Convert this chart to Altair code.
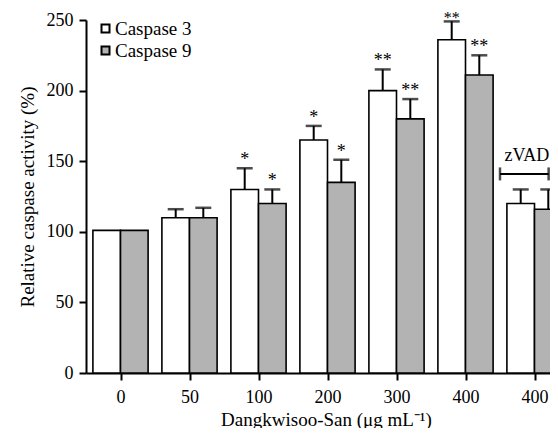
import json
import altair as alt
import pandas as pd

# ---------------- data ----------------
categories = ["0", "50", "100", "200", "300", "400", "400"]
series = ["Caspase 3", "Caspase 9"]
casp3 = [101, 110, 130, 165, 200, 236, 120]
casp3_err = [0, 6, 15, 10, 15, 13, 10]
casp9 = [101, 110, 120, 135, 180, 211, 116]
casp9_err = [0, 7, 10, 16, 14, 14, 14]
casp3_sig = ["", "", "*", "*", "**", "**", ""]
casp9_sig = ["", "", "*", "*", "**", "**", ""]
zvad_label = ["zVAD"]
zvad_level = [141]

rows = []
for s, vals, errs, sigs in [
    (series[0], casp3, casp3_err, casp3_sig),
    (series[1], casp9, casp9_err, casp9_sig),
]:
    for i, (v, e, g) in enumerate(zip(vals, errs, sigs)):
        rows.append({"idx": i, "series": s, "value": v, "err": e, "sig": g})
df = pd.DataFrame(rows)

# ---------------- styling / layout constants ----------------
FONT = "Liberation Serif"
BARW = 0.4          # bar width in category units
PLOT_W = 464
PLOT_H = 353
STEP = 69.0         # pixels per category
X_MIN = -0.5
X_MAX = X_MIN + PLOT_W / STEP
Y_MAX = 250
NEAR_TOP = 240      # stars above this level are drawn tighter so they stay on the page
Z_START = 5.5
Z_END = X_MAX - 0.02
Z_TEXT_X = 5.89

xscale = alt.Scale(domain=[X_MIN, X_MAX], nice=False, zero=False)
yscale = alt.Scale(domain=[0, Y_MAX], nice=False)

label_expr = json.dumps(categories) + "[datum.value]"

first = series[0]
base = alt.Chart(df).transform_calculate(
    x0=f"datum.idx + (datum.series == '{first}' ? -{BARW} : 0)",
    x1=f"datum.idx + (datum.series == '{first}' ? 0 : {BARW})",
    xc=f"datum.idx + (datum.series == '{first}' ? -{BARW/2} : {BARW/2})",
    top="datum.value + datum.err",
)

bars = base.mark_bar(stroke="black", strokeWidth=1.6, clip=True).encode(
    x=alt.X(
        "x0:Q",
        scale=xscale,
        axis=alt.Axis(
            values=list(range(len(categories))),
            labelExpr=label_expr,
            title="Dangkwisoo-San (μg mL⁻¹)",
            labelPadding=8,
            titlePadding=4,
            titleX=240,
        ),
    ),
    x2="x1:Q",
    y=alt.Y(
        "value:Q",
        scale=yscale,
        axis=alt.Axis(
            values=[0, 50, 100, 150, 200, 250],
            title="Relative caspase activity (%)",
            labelPadding=6,
            titlePadding=9,
        ),
    ),
    y2=alt.datum(0),
    fill=alt.Fill(
        "series:N",
        scale=alt.Scale(domain=series, range=["white", "#b3b3b3"]),
        legend=alt.Legend(
            title=None,
            orient="none",
            legendX=10,
            legendY=-1,
            symbolType="square",
            symbolSize=64,
            symbolStrokeColor="black",
            symbolStrokeWidth=2,
            labelFont=FONT,
            labelFontSize=19,
            labelColor="black",
            labelOffset=0,
            rowPadding=2,
            padding=0,
        ),
    ),
)

with_err = base.transform_filter("datum.err > 0")
stems = with_err.mark_rule(color="black", strokeWidth=2).encode(
    x=alt.X("xc:Q", scale=xscale),
    y=alt.Y("value:Q", scale=yscale),
    y2="top:Q",
)
caps = with_err.mark_tick(color="black", orient="horizontal", size=16, thickness=2.5).encode(
    x=alt.X("xc:Q", scale=xscale),
    y=alt.Y("top:Q", scale=yscale),
)
star_enc = dict(
    x=alt.X("xc:Q", scale=xscale),
    y=alt.Y("top:Q", scale=yscale),
    text="sig:N",
)
stars = base.transform_filter(f"datum.sig != '' && datum.top <= {NEAR_TOP}").mark_text(
    font=FONT, fontSize=18, color="black", baseline="alphabetic", dy=-3
).encode(**star_enc)
stars_top = base.transform_filter(f"datum.sig != '' && datum.top > {NEAR_TOP}").mark_text(
    font=FONT, fontSize=16, color="black", baseline="alphabetic", dy=2
).encode(**star_enc)

zdf = pd.DataFrame({"label": zvad_label, "level": zvad_level})
zbase = alt.Chart(zdf)
bracket = zbase.mark_rule(color="black", strokeWidth=2).encode(
    x=alt.datum(Z_START, scale=xscale),
    x2=alt.datum(Z_END),
    y=alt.Y("level:Q", scale=yscale),
)
end_l = zbase.mark_tick(color="black", orient="vertical", size=13, thickness=2.5).encode(
    x=alt.datum(Z_START, scale=xscale),
    y=alt.Y("level:Q", scale=yscale),
)
end_r = zbase.mark_tick(color="black", orient="vertical", size=13, thickness=2.5).encode(
    x=alt.datum(Z_END, scale=xscale),
    y=alt.Y("level:Q", scale=yscale),
)
ztext = zbase.mark_text(
    font=FONT, fontSize=18, color="black", baseline="alphabetic", dy=-13
).encode(
    x=alt.datum(Z_TEXT_X, scale=xscale),
    y=alt.Y("level:Q", scale=yscale),
    text="label:N",
)

chart = (
    alt.layer(bars, stems, caps, stars, stars_top, bracket, end_l, end_r, ztext)
    .properties(
        width=PLOT_W,
        height=PLOT_H,
        autosize=alt.AutoSizeParams(type="none"),
        padding={"left": 78, "top": 12, "right": 0, "bottom": 55},
        background="white",
    )
    .configure_axis(
        grid=False,
        domainColor="black",
        domainWidth=2,
        tickColor="black",
        tickWidth=2,
        tickSize=7,
        labelFont=FONT,
        labelFontSize=18,
        labelColor="black",
        titleFont=FONT,
        titleFontSize=19,
        titleFontWeight="normal",
        titleColor="black",
    )
    .configure_view(strokeWidth=0)
)

chart.save("out.html", embed_options={"renderer": "svg", "actions": False})
